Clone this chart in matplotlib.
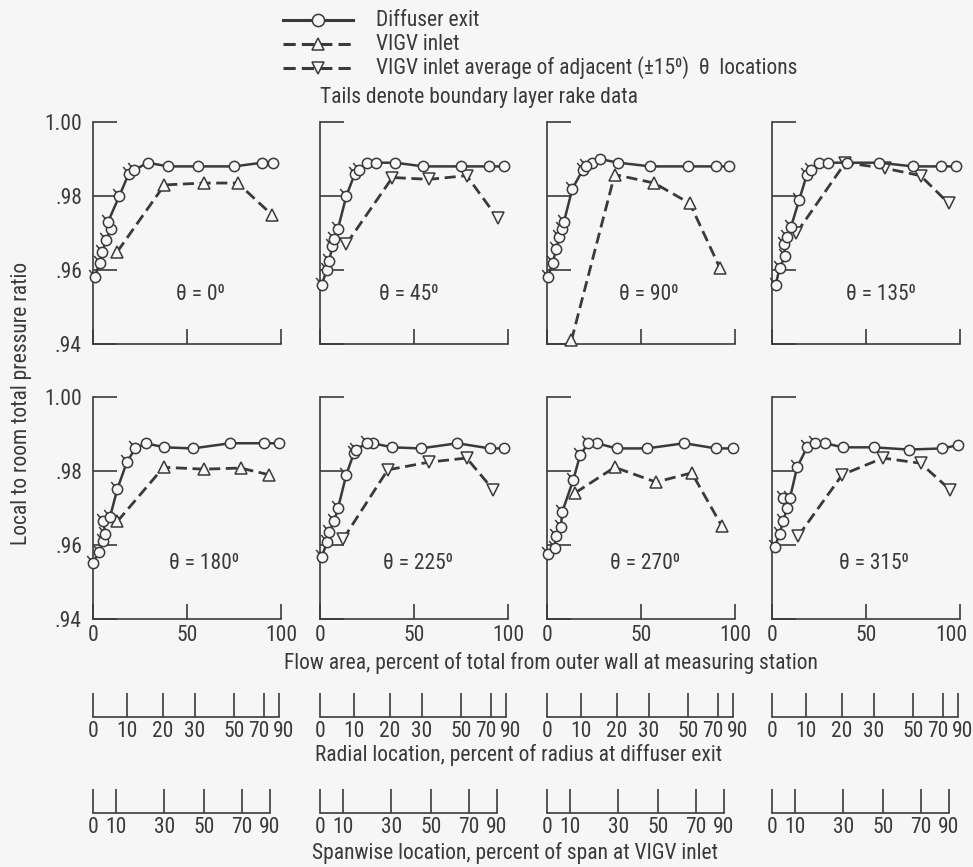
"""Total pressure ratio surveys at eight circumferential locations (diffuser exit vs VIGV inlet)."""
import numpy as np
import matplotlib
matplotlib.use("Agg")
import matplotlib.pyplot as plt
from matplotlib import font_manager
from matplotlib.path import Path
from matplotlib.lines import Line2D
from matplotlib.transforms import ScaledTranslation

# ---------------- data (flow area %, pressure ratio) ----------------
theta_labels = ["0", "45", "90", "135", "180", "225", "270", "315"]

exit_x_000 = [1, 3.5, 5, 7, 9.5, 8, 14, 19, 22, 29, 40, 56, 75, 90, 96]
exit_p_000 = [.958, .962, .965, .968, .971, .973, .980, .986, .987, .989, .988, .988, .988, .989, .989]
vigv_x_000 = [13, 38, 59, 77, 95]
vigv_p_000 = [.965, .983, .9835, .9835, .975]

exit_x_045 = [1, 3.5, 5, 6.5, 7.5, 9.5, 14, 18.5, 21, 25, 30, 40, 55, 75, 90, 98]
exit_p_045 = [.956, .960, .9625, .9666, .9685, .971, .980, .986, .987, .989, .989, .989, .988, .988, .988, .988]
vigv_x_045 = [14, 38.5, 58, 78, 94.5]
vigv_p_045 = [.967, .985, .9845, .9855, .974]

exit_x_090 = [0.5, 3, 5, 6.5, 8, 9, 13.5, 19, 21, 24, 28, 38, 55, 75, 90, 97]
exit_p_090 = [.958, .962, .9657, .9688, .971, .973, .982, .987, .988, .989, .990, .989, .988, .988, .988, .988]
vigv_x_090 = [13, 36, 57, 76, 92]
vigv_p_090 = [.941, .9858, .9835, .978, .9605]

exit_x_135 = [2, 4, 7, 6.5, 8, 10, 14.5, 18.5, 21, 25, 30, 40, 57, 75, 90, 98]
exit_p_135 = [.956, .9605, .9638, .967, .969, .9715, .979, .9857, .987, .989, .989, .989, .989, .988, .988, .988]
vigv_x_135 = [13, 39, 60, 79, 94]
vigv_p_135 = [.970, .989, .9875, .9855, .978]

exit_x_180 = [0, 3, 5.5, 6.5, 5.5, 9, 13, 18, 22.5, 28, 38, 53, 73, 91, 99]
exit_p_180 = [.9552, .958, .961, .963, .9664, .9675, .9752, .9824, .9861, .9875, .9864, .9861, .9875, .9875, .9875]
vigv_x_180 = [13, 37.5, 59, 78.5, 93.5]
vigv_p_180 = [.9664, .981, .9805, .9808, .979]

exit_x_225 = [1, 3.7, 5, 7.5, 9.6, 14, 18, 19, 25, 28, 38.5, 53.5, 73, 90.4, 98]
exit_p_225 = [.9568, .9608, .9635, .9664, .970, .979, .9848, .9858, .9875, .9875, .9864, .9861, .9875, .9861, .9861]
vigv_x_225 = [12.3, 36, 58, 78, 92]
vigv_p_225 = [.9616, .9803, .9824, .9835, .975]

exit_x_270 = [0.6, 4, 4.8, 7.5, 8, 14, 17.6, 22, 26.5, 37, 53, 73, 90, 99]
exit_p_270 = [.9576, .9592, .9624, .965, .9688, .9776, .9843, .9875, .9875, .9861, .9861, .9875, .9861, .9861]
vigv_x_270 = [15, 36, 58, 77, 93]
vigv_p_270 = [.9741, .981, .977, .9795, .9651]

exit_x_315 = [1.6, 4, 5.9, 8, 6, 9.6, 13.4, 18.7, 23, 28, 38, 54, 72.7, 90.6, 99]
exit_p_315 = [.9595, .963, .9664, .970, .9728, .9728, .9811, .9864, .9875, .9875, .9864, .9864, .9858, .9861, .987]
vigv_x_315 = [13.9, 37.4, 59, 79, 94.6]
vigv_p_315 = [.9624, .979, .9835, .9821, .975]

# leading diffuser-exit points that come from the boundary layer rake (drawn with tails)
rake_counts = [9, 9, 9, 9, 9, 9, 8, 9]
# VIGV inlet marker: up = measured, down = average of adjacent locations
vigv_markers = ['^', 'v', '^', 'v', '^', 'v', '^', 'v']

# secondary scales (position on flow-area axis)
radial_ticks = ["0", "10", "20", "30", "50", "70", "90"]
radial_pos = [0, 18, 37, 54, 75, 91, 99]
span_ticks = ["0", "10", "30", "50", "70", "90"]
span_pos = [0, 12, 38, 59, 79, 94]

exit_x = [exit_x_000, exit_x_045, exit_x_090, exit_x_135, exit_x_180, exit_x_225, exit_x_270, exit_x_315]
exit_p = [exit_p_000, exit_p_045, exit_p_090, exit_p_135, exit_p_180, exit_p_225, exit_p_270, exit_p_315]
vigv_x = [vigv_x_000, vigv_x_045, vigv_x_090, vigv_x_135, vigv_x_180, vigv_x_225, vigv_x_270, vigv_x_315]
vigv_p = [vigv_p_000, vigv_p_045, vigv_p_090, vigv_p_135, vigv_p_180, vigv_p_225, vigv_p_270, vigv_p_315]


# ---------------- font: a narrow sans if one is around ----------------
def pick_font():
    entries = font_manager.fontManager.ttflist
    names = {f.name for f in entries}
    for name in ['Liberation Sans Narrow', 'Roboto Condensed', 'Open Sans Condensed', 'Noto Sans Condensed']:
        if name in names:
            return name, 'normal'
    for name in ['Noto Sans', 'DejaVu Sans', 'Open Sans', 'Roboto']:
        for f in entries:
            if f.name == name and str(f.stretch) in ('condensed', 'semi-condensed', 'extra-condensed'):
                return name, 'condensed'
    return 'Liberation Sans', 'normal'


FONT, STRETCH = pick_font()
plt.rcParams['font.family'] = [FONT, 'DejaVu Sans']
plt.rcParams['font.stretch'] = STRETCH
plt.rcParams['mathtext.fontset'] = 'dejavusans'

# ---------------- layout / style ----------------
INK = '#3a3a3a'
BG = '#f6f6f6'
W, H = 973, 867
FS = 15.5
DEG = "\u2070"   # superscript zero, as lettered on the original
panel_lefts = [93, 320, 547, 772]
panel_tops = [122, 397]
panel_w, panel_h = 188, 222
theta_label_x = [57, 47, 54, 58, 59, 52, 52, 54]
theta_label_y = [.9535, .9535, .9535, .9535, .955, .955, .955, .955]
radial_dx = [0, 0, 0, 0, 0, -3.5, 3]   # label nudges, points
span_dx = [0, 0, 0, 0, 0, 0]


def px_rect(left, top, width, height):
    return [left / W, 1 - (top + height) / H, width / W, height / H]


def tail_marker(angle_deg=130, length=1.9):
    """circle with a short tail, for boundary layer rake points"""
    circ = Path.unit_circle()
    a = np.deg2rad(angle_deg)
    d = np.array([np.cos(a), np.sin(a)])
    verts = np.concatenate([circ.vertices, [d * 1.0, d * length]])
    codes = np.concatenate([circ.codes, [Path.MOVETO, Path.LINETO]])
    scale = max(1.0, np.max(np.abs(verts)))
    return Path(verts, codes), scale


TAIL, TAIL_SCALE = tail_marker()
CIRCLE_MS = 7.4

fig = plt.figure(figsize=(W / 100, H / 100), dpi=100, facecolor=BG)

# overlay for legend and shared labels (pixel coordinates)
lay = fig.add_axes([0, 0, 1, 1])
lay.set_xlim(0, W)
lay.set_ylim(H, 0)
lay.axis('off')

for i in range(8):
    row, col = divmod(i, 4)
    ax = fig.add_axes(px_rect(panel_lefts[col], panel_tops[row], panel_w, panel_h))
    ax.set_facecolor('none')
    ax.set_xlim(0, 100)
    ax.set_ylim(0.94, 1.00)
    for s in ['top', 'right']:
        ax.spines[s].set_visible(False)
    for s in ['left', 'bottom']:
        ax.spines[s].set_color(INK)
        ax.spines[s].set_linewidth(1.2)
    ax.set_xticks([0, 50, 100])
    ax.set_yticks([0.94, 0.96, 0.98, 1.00])
    ax.set_xticklabels(["0", "50", "100"])
    ax.set_yticklabels([".94", ".96", ".98", "1.00"])
    ax.tick_params(axis='x', direction='in', length=11, width=1.2, color=INK,
                   labelsize=FS, labelcolor=INK, pad=4, labelbottom=(row == 1))
    ax.tick_params(axis='y', direction='in', length=17, width=1.2, color=INK,
                   labelsize=FS, labelcolor=INK, pad=8, labelleft=(col == 0))
    if row == 1 and col == 3:
        lbl = ax.get_xticklabels()[-1]
        lbl.set_transform(lbl.get_transform() + ScaledTranslation(-6 / 72, 0, fig.dpi_scale_trans))

    n = rake_counts[i]
    # VIGV inlet (dashed)
    ax.plot(vigv_x[i], vigv_p[i], color=INK, lw=2.0, ls=(0, (4, 2)), marker=vigv_markers[i],
            ms=8.5, mfc=BG, mec=INK, mew=1.1, zorder=3, clip_on=False)
    # diffuser exit (solid)
    ax.plot(exit_x[i], exit_p[i], color=INK, lw=1.8, zorder=4, clip_on=False)
    ax.plot(exit_x[i][n:], exit_p[i][n:], ls='none', marker='o', ms=CIRCLE_MS,
            mfc=BG, mec=INK, mew=1.1, zorder=5, clip_on=False)
    ax.plot(exit_x[i][:n], exit_p[i][:n], ls='none', marker=TAIL, ms=CIRCLE_MS * TAIL_SCALE,
            mfc=BG, mec=INK, mew=1.1, zorder=5, clip_on=False)

    ax.text(theta_label_x[i], theta_label_y[i], "θ = " + theta_labels[i] + DEG,
            ha='center', va='center', fontsize=FS, color=INK)

    # radial location and spanwise location scales, one set under each column
    if row == 1:
        for pos, labels, nudges, base in [(radial_pos, radial_ticks, radial_dx, 717),
                                          (span_pos, span_ticks, span_dx, 813)]:
            sx = fig.add_axes(px_rect(panel_lefts[col], base - 27, panel_w, 27))
            sx.set_facecolor('none')
            sx.set_xlim(0, 100)
            sx.set_yticks([])
            for s in ['top', 'right', 'left']:
                sx.spines[s].set_visible(False)
            sx.spines['bottom'].set_bounds(pos[0], pos[-1])
            sx.spines['bottom'].set_color(INK)
            sx.spines['bottom'].set_linewidth(1.2)
            sx.set_xticks(pos)
            sx.set_xticklabels([])
            sx.tick_params(axis='x', direction='in', length=17, width=1.2, color=INK)
            for p, lab, dx in zip(pos, labels, nudges):
                sx.annotate(lab, xy=(p, 0), xycoords=sx.get_xaxis_transform(),
                            xytext=(dx, -3), textcoords='offset points',
                            ha='center', va='top', fontsize=FS, color=INK,
                            annotation_clip=False)

# shared labels
lay.text(551, 663, "Flow area, percent of total from outer wall at measuring station",
         ha='center', va='center', fontsize=FS, color=INK)
lay.text(519, 755, "Radial location, percent of radius at diffuser exit",
         ha='center', va='center', fontsize=FS, color=INK)
lay.text(515, 853, "Spanwise location, percent of span at VIGV inlet",
         ha='center', va='center', fontsize=FS, color=INK)
lay.text(22, 403, "Local to room total pressure ratio", rotation=90,
         ha='center', va='center', fontsize=FS, color=INK)

# legend
legend_rows = [("Diffuser exit", '-', 'o'),
               ("VIGV inlet", (0, (4, 2)), '^'),
               ("VIGV inlet average of adjacent (±15" + DEG + ")  θ  locations", (0, (4, 2)), 'v')]
for k, (label, ls, mk) in enumerate(legend_rows):
    y = 20 + 24 * k
    lay.add_line(Line2D([283, 318, 353], [y, y, y], color=INK, lw=2.2, ls=ls,
                        marker=mk, markevery=[1], ms=8.8, mfc=BG, mec=INK, mew=1.1))
    lay.text(376, y, label, ha='left', va='center', fontsize=FS, color=INK)
lay.text(320, 97, "Tails denote boundary layer rake data", ha='left', va='center',
         fontsize=FS, color=INK)

fig.savefig("out.png", dpi=100, facecolor=BG)
